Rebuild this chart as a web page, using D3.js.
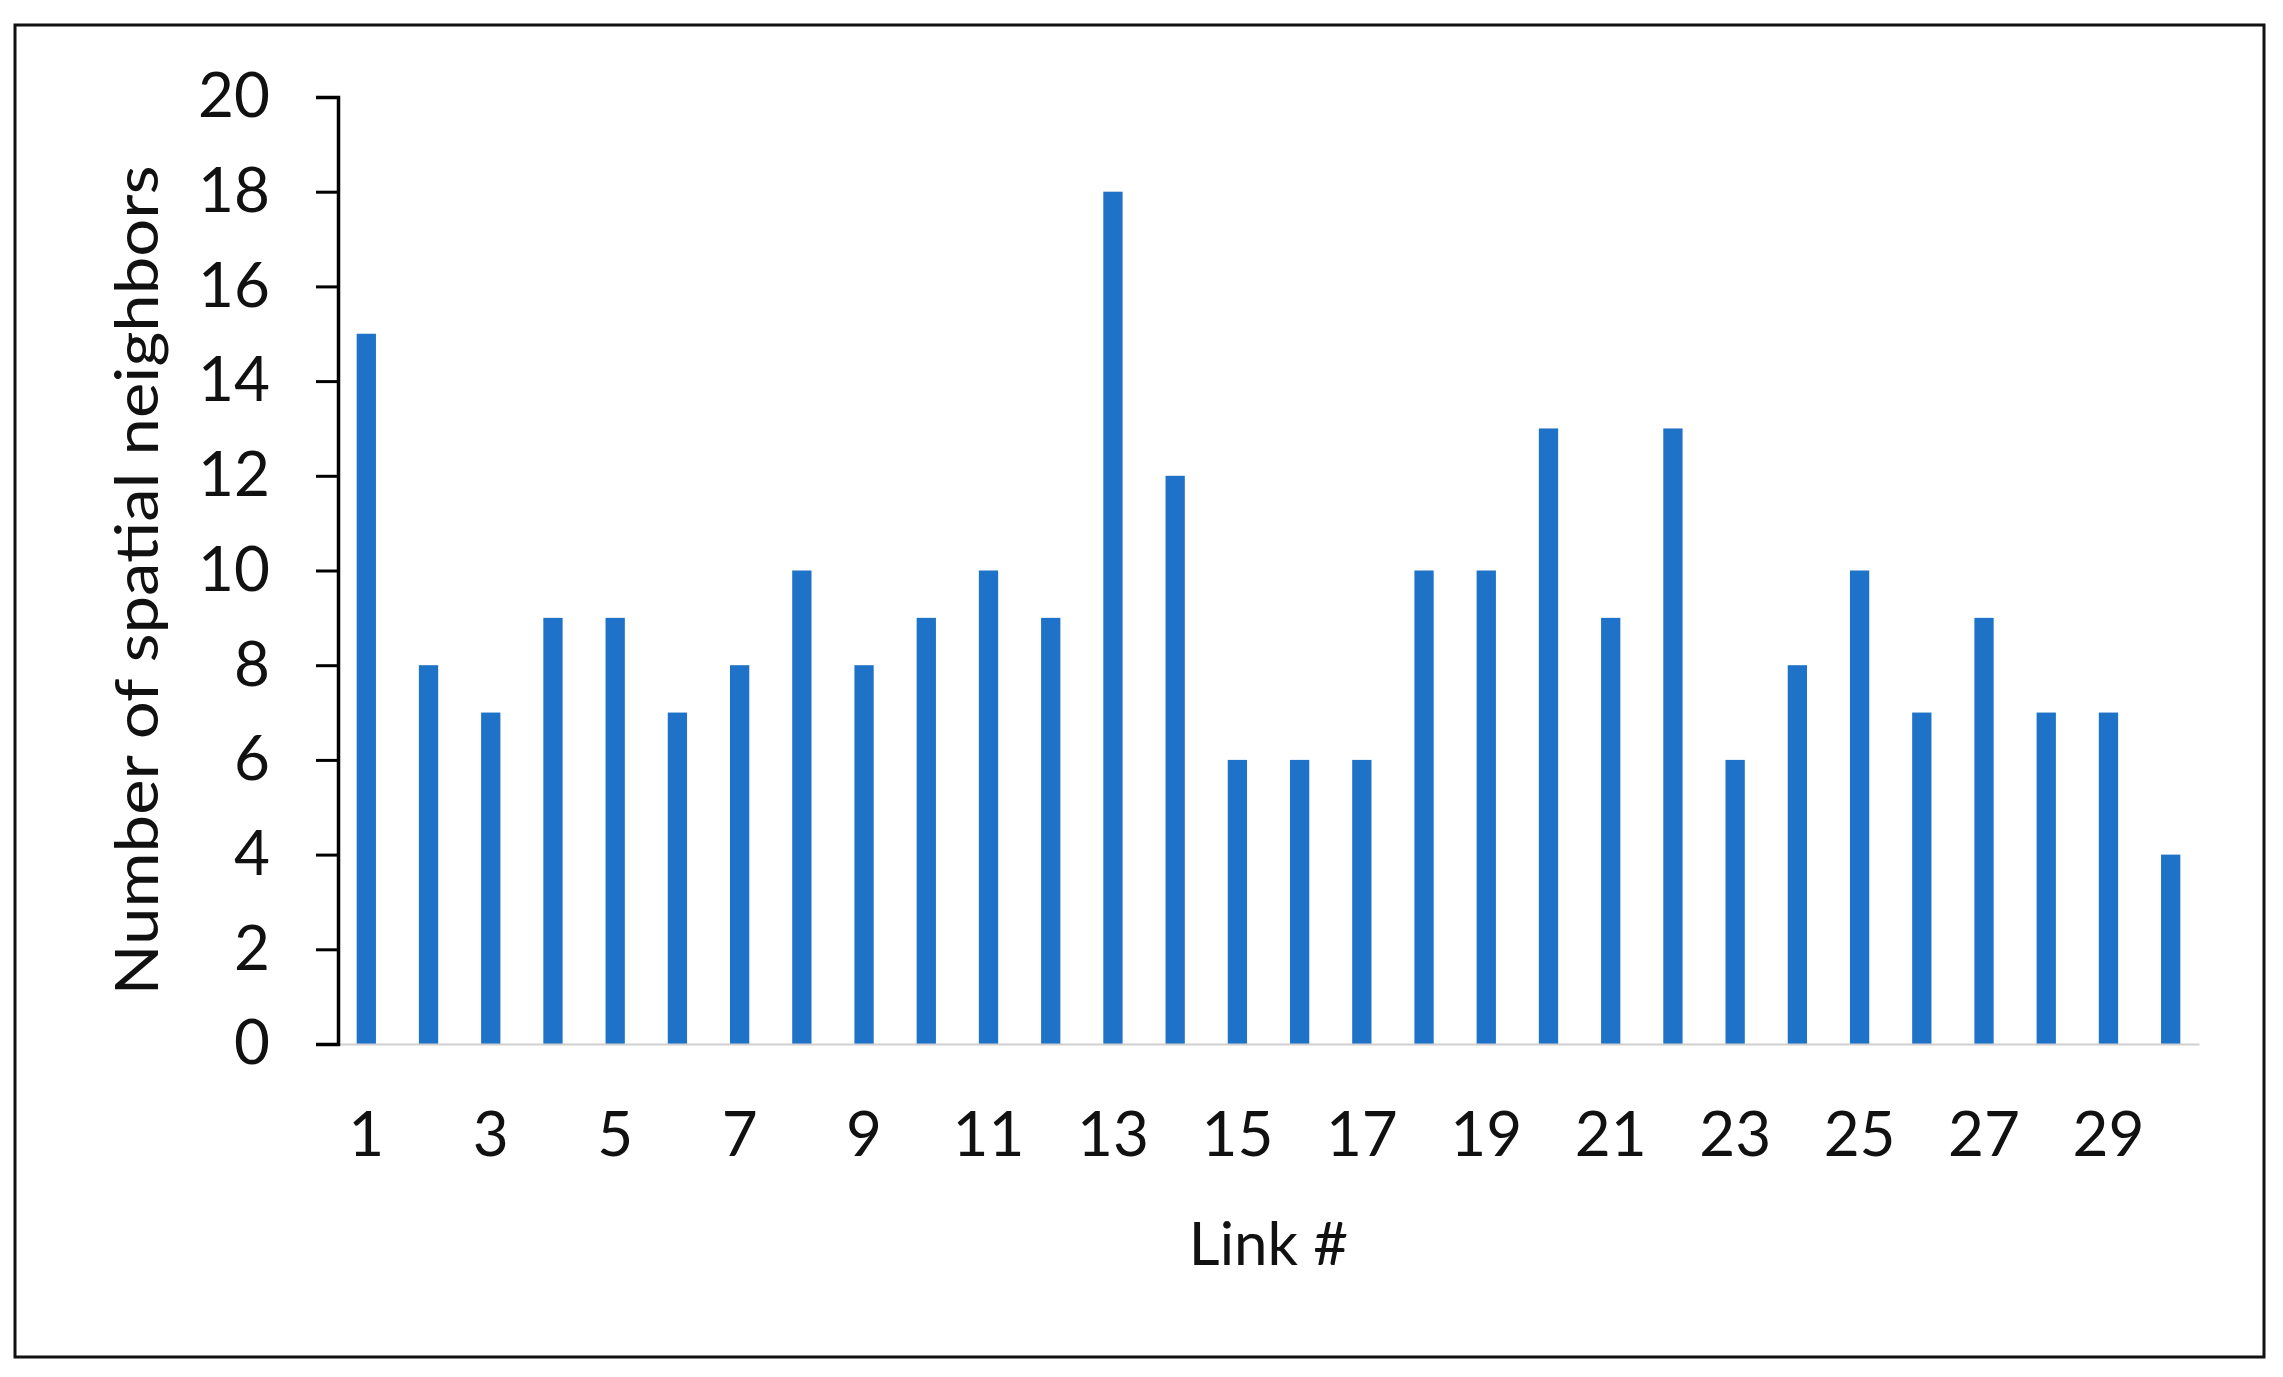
<!DOCTYPE html>
<html>
<head>
<meta charset="utf-8">
<script src="https://cdn.jsdelivr.net/npm/d3@7"></script>
<style>
  body { margin: 0; background: #fff; }
  svg { display: block; font-family: Lato, "Open Sans", sans-serif; }
</style>
</head>
<body>
<svg id="chart" width="2283" height="1377"></svg>
<script>
// link ids and neighbour counts
const links = d3.range(1, 31);
const neighbors = [15, 8, 7, 9, 9, 7, 8, 10, 8, 9, 10, 9, 18, 12, 6, 6, 6, 10, 10, 13, 9, 13, 6, 8, 10, 7, 9, 7, 7, 4];
const yTicks = [0, 2, 4, 6, 8, 10, 12, 14, 16, 18, 20];
const xTickLabels = links.filter(d => d % 2 == 1);

const svg = d3.select('svg#chart'),
  margin = { left: 338, right: 2199, top: 97, bottom: 1044 },
  barColor = '#1e73c8';

svg.append('rect')
  .attr('x', 15).attr('y', 25)
  .attr('width', 2249).attr('height', 1332)
  .attr('fill', '#fff')
  .attr('stroke', '#111')
  .attr('stroke-width', 3);

const x = d3.scaleBand()
  .domain(links)
  .range([margin.left, margin.right])
  .paddingInner(0.69)
  .paddingOuter(0.3);

const y = d3.scaleLinear()
  .domain([0, 20])
  .range([margin.bottom, margin.top]);

// bars
svg.append('g').selectAll('rect')
  .data(links)
  .enter().append('rect')
    .attr('x', d => x(d))
    .attr('width', x.bandwidth())
    .attr('y', (d, i) => y(neighbors[i]))
    .attr('height', (d, i) => y(0) - y(neighbors[i]))
    .attr('fill', barColor);

// x baseline (light gray, no ticks)
const xAxis = svg.append('g')
  .attr('transform', `translate(0,${margin.bottom})`)
  .call(d3.axisBottom(x)
    .tickValues(xTickLabels)
    .tickSize(0)
    .tickPadding(68));
xAxis.select('.domain')
  .attr('stroke', '#d0d0d0')
  .attr('stroke-width', 2);
xAxis.selectAll('text')
  .attr('fill', '#111')
  .style('font-size', '62px')
  .style('font-family', 'Lato, "Open Sans", sans-serif');

// y axis
const yAxis = svg.append('g')
  .attr('transform', `translate(${margin.left},0)`)
  .call(d3.axisLeft(y)
    .tickValues(yTicks)
    .tickSize(22)
    .tickSizeOuter(22)
    .tickPadding(46));
yAxis.select('.domain')
  .attr('stroke', '#000')
  .attr('stroke-width', 3.5);
yAxis.selectAll('.tick line')
  .attr('stroke', '#000')
  .attr('stroke-width', 3);
yAxis.selectAll('text')
  .attr('fill', '#111')
  .style('font-size', '62px')
  .style('font-family', 'Lato, "Open Sans", sans-serif');

// titles
svg.append('text')
  .attr('x', (margin.left + margin.right) / 2)
  .attr('y', 1265)
  .attr('text-anchor', 'middle')
  .attr('fill', '#111')
  .style('font-size', '60px')
  .text('Link #');

svg.append('text')
  .attr('transform', `translate(158,${(margin.top + margin.bottom) / 2 + 10}) rotate(-90)`)
  .attr('text-anchor', 'middle')
  .attr('fill', '#111')
  .style('font-size', '60px')
  .attr('textLength', 830)
  .attr('lengthAdjust', 'spacingAndGlyphs')
  .text('Number of spatial neighbors');
</script>
</body>
</html>
